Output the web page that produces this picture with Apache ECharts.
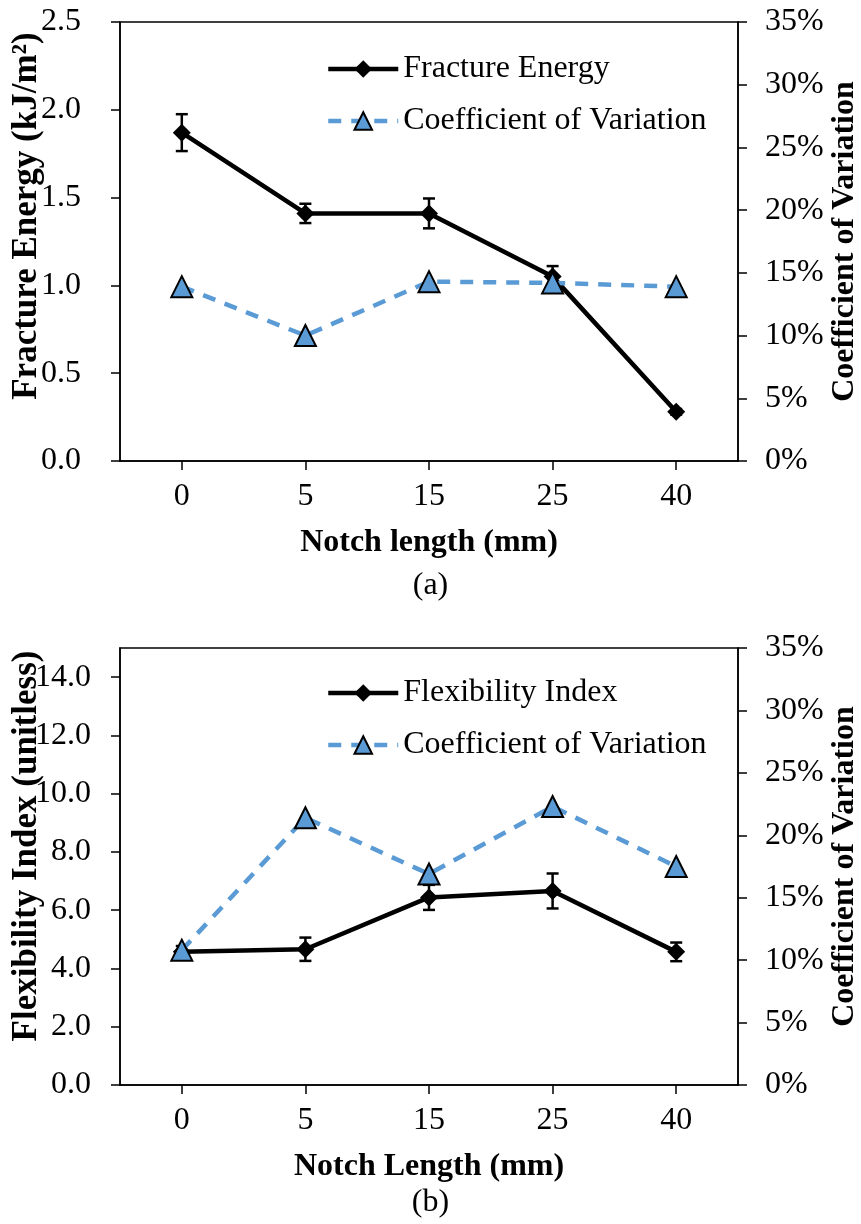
<!DOCTYPE html>
<html>
<head>
<meta charset="utf-8">
<script src="https://cdn.jsdelivr.net/npm/echarts@6/dist/echarts.min.js"></script>
<style>
html,body{margin:0;padding:0;background:#fff;}
#chart{width:861px;height:1224px;}
</style>
</head>
<body>
<div id="chart"></div>
<script>
// ---- Data ----
const categories = ['0', '5', '15', '25', '40'];
const fractureEnergy = [1.87, 1.41, 1.41, 1.05, 0.28];
const fractureEnergyErr = [0.105, 0.055, 0.085, 0.06, 0.016];
const fractureCoV = [13.9, 10.0, 14.3, 14.2, 13.9];
const flexIndex = [4.57, 4.66, 6.44, 6.66, 4.57];
const flexIndexErr = [0.2, 0.4, 0.43, 0.6, 0.32];
const flexCoV = [10.8, 21.4, 16.9, 22.3, 17.5];
const feTicks = { min: 0, max: 2.5, interval: 0.5 };
const fiTicks = { min: 0, max: 15, interval: 2 };
const covTicks = { min: 0, max: 35, interval: 5 };

const FONT = 'Liberation Serif';
const BLUE = '#5B9BD5';
const FS = 32;

function errData(vals, errs) {
  return vals.map((v, i) => [i, v, errs[i]]);
}
function errRender(params, api) {
  const i = api.value(0), v = api.value(1), e = api.value(2);
  const top = api.coord([i, v + e]);
  const bot = api.coord([i, v - e]);
  const cap = 6;
  const st = { stroke: '#000', lineWidth: 2.5 };
  return {
    type: 'group',
    children: [
      { type: 'line', shape: { x1: top[0], y1: top[1], x2: bot[0], y2: bot[1] }, style: st },
      { type: 'line', shape: { x1: top[0] - cap, y1: top[1], x2: top[0] + cap, y2: top[1] }, style: st },
      { type: 'line', shape: { x1: bot[0] - cap, y1: bot[1], x2: bot[0] + cap, y2: bot[1] }, style: st }
    ]
  };
}

const axisLineStyle = { show: true, lineStyle: { color: '#000', width: 1.5 } };
const tickStyle = { show: true, inside: false, length: 9, lineStyle: { color: '#000', width: 1.5 } };
const labelFont = { fontFamily: FONT, fontSize: FS, color: '#000' };
const nameFont = { fontFamily: FONT, fontSize: FS, fontWeight: 'bold', color: '#000' };

function xAxis(gridIndex, name) {
  return {
    type: 'category', gridIndex, data: categories, boundaryGap: true,
    axisLine: axisLineStyle,
    axisTick: Object.assign({ alignWithLabel: true }, tickStyle),
    axisLabel: Object.assign({ margin: 20 }, labelFont),
    name, nameLocation: 'middle', nameGap: 66, nameMoveOverlap: false, nameTextStyle: nameFont,
    splitLine: { show: false }
  };
}
function leftAxis(gridIndex, t, dec, showMax, margin) {
  return {
    type: 'value', gridIndex, position: 'left', min: t.min, max: t.max, interval: t.interval,
    axisLine: axisLineStyle, axisTick: tickStyle,
    axisLabel: Object.assign({ margin, showMaxLabel: showMax, formatter: v => v.toFixed(dec) }, labelFont),
    splitLine: { show: false }
  };
}
function rightAxis(gridIndex, name) {
  return {
    type: 'value', gridIndex, position: 'right', min: covTicks.min, max: covTicks.max, interval: covTicks.interval,
    axisLine: axisLineStyle, axisTick: tickStyle,
    axisLabel: Object.assign({ margin: 27, formatter: v => v + '%' }, labelFont),
    splitLine: { show: false },
    name, nameLocation: 'middle', nameRotate: 90, nameGap: 91, nameMoveOverlap: false, nameTextStyle: nameFont
  };
}
function leftTitle(text, x, y) {
  return {
    type: 'text', x, y, rotation: Math.PI / 2,
    style: { text, fontFamily: FONT, fontSize: 35, fontWeight: 'bold', fill: '#000', align: 'center', verticalAlign: 'middle' }
  };
}

const lineBlack = { color: '#000', width: 4.5 };
const lineBlue = { color: BLUE, width: 4.5, type: [13, 10] };
const legendCommon = {
  orient: 'vertical', left: 321, itemWidth: 70, itemHeight: 22, itemGap: 20,
  textStyle: { fontFamily: FONT, fontSize: FS, color: '#000' }, selectedMode: false,
  lineStyle: { width: 'inherit' }
};

const option = {
  backgroundColor: '#fff',
  animation: false,
  textStyle: { fontFamily: FONT },
  title: [
    { text: '(a)', left: 'center', top: 565, textStyle: { fontFamily: FONT, fontSize: FS, fontWeight: 'normal', color: '#000' } },
    { text: '(b)', left: 'center', top: 1182, textStyle: { fontFamily: FONT, fontSize: FS, fontWeight: 'normal', color: '#000' } }
  ],
  graphic: [
    leftTitle('Fracture Energy (kJ/m²)', 27, 216),
    leftTitle('Flexibility Index (unitless)', 27, 846)
  ],
  legend: [
    Object.assign({ data: ['Fracture Energy', 'Coefficient of Variation'], top: 48 }, legendCommon),
    Object.assign({ data: ['Flexibility Index', 'Coefficient of Variation'], top: 672 }, legendCommon)
  ],
  grid: [
    { left: 120, right: 123, top: 22, height: 439, show: true, borderColor: '#000', borderWidth: 1.5, containLabel: false, outerBoundsMode: 'none' },
    { left: 120, right: 123, top: 648, height: 437, show: true, borderColor: '#000', borderWidth: 1.5, containLabel: false, outerBoundsMode: 'none' }
  ],
  xAxis: [xAxis(0, 'Notch length (mm)'), xAxis(1, 'Notch Length (mm)')],
  yAxis: [
    leftAxis(0, feTicks, 1, true, 39),
    rightAxis(0, 'Coefficient of Variation'),
    leftAxis(1, fiTicks, 1, false, 29),
    rightAxis(1, 'Coefficient of Variation')
  ],
  series: [
    {
      name: 'Fracture Energy', type: 'line', xAxisIndex: 0, yAxisIndex: 0, data: fractureEnergy,
      symbol: 'diamond', symbolSize: 18, lineStyle: lineBlack, itemStyle: { color: '#000' }, z: 3
    },
    { type: 'custom', xAxisIndex: 0, yAxisIndex: 0, data: errData(fractureEnergy, fractureEnergyErr), renderItem: errRender, z: 4 },
    {
      name: 'Coefficient of Variation', type: 'line', xAxisIndex: 0, yAxisIndex: 1, data: fractureCoV,
      symbol: 'triangle', symbolSize: [21, 21], lineStyle: lineBlue,
      itemStyle: { color: BLUE, borderColor: '#000', borderWidth: 2 }, z: 5
    },
    {
      name: 'Flexibility Index', type: 'line', xAxisIndex: 1, yAxisIndex: 2, data: flexIndex,
      symbol: 'diamond', symbolSize: 18, lineStyle: lineBlack, itemStyle: { color: '#000' }, z: 3
    },
    { type: 'custom', xAxisIndex: 1, yAxisIndex: 2, data: errData(flexIndex, flexIndexErr), renderItem: errRender, z: 4 },
    {
      name: 'Coefficient of Variation', type: 'line', xAxisIndex: 1, yAxisIndex: 3, data: flexCoV,
      symbol: 'triangle', symbolSize: [21, 21], lineStyle: lineBlue,
      itemStyle: { color: BLUE, borderColor: '#000', borderWidth: 2 }, z: 5
    }
  ]
};

const chart = echarts.init(document.getElementById('chart'), null, { renderer: 'canvas' });
chart.setOption(option);
</script>
</body>
</html>
